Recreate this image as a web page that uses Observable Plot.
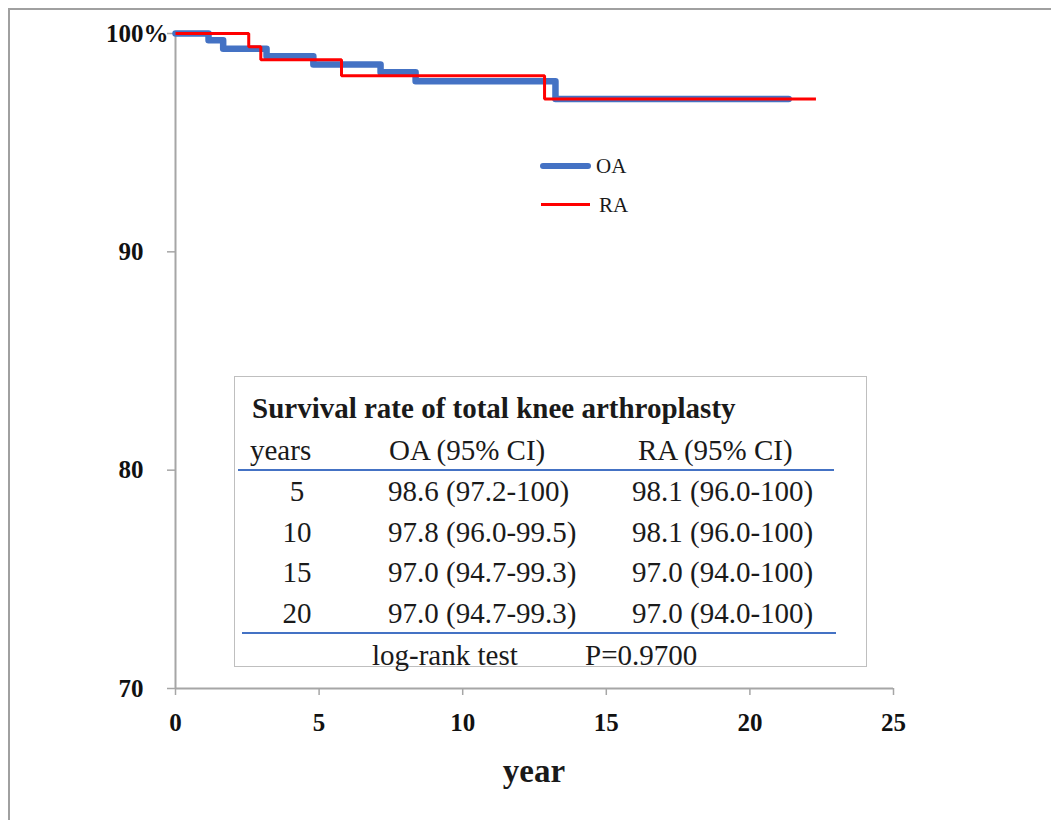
<!DOCTYPE html>
<html>
<head>
<meta charset="utf-8">
<script src="https://cdn.jsdelivr.net/npm/d3@7"></script>
<script src="https://cdn.jsdelivr.net/npm/@observablehq/plot@0.6"></script>
<style>
  body { margin: 0; background: #fff; }
  #wrap { position: relative; width: 1051px; height: 820px; font-family: "Liberation Serif", serif; color: #1a1a1a; }
  #wrap svg { position: absolute; left: 0; top: 0; }
  .abs { position: absolute; white-space: nowrap; }
  .vc { transform: translateY(-50%); }
</style>
</head>
<body>
<div id="wrap"></div>
<script>
// ---- data ----
const oaYears = [0, 1.15, 1.66, 3.17, 4.8, 7.14, 8.36, 13.23, 21.35];
const oaSurv  = [100, 99.69, 99.3, 98.96, 98.58, 98.22, 97.81, 97.0, 97.0];
const raYears = [0, 2.55, 2.97, 5.78, 12.85, 22.3];
const raSurv  = [100, 99.39, 98.8, 98.07, 97.0, 97.0];

const xTicks = [0, 5, 10, 15, 20, 25];
const yTicks = [70, 80, 90, 100];
const seriesNames = ["OA", "RA"];
const seriesColors = ["#4472C4", "#FF0000"];
const xLabel = "year";

const tableTitle = "Survival rate of total knee arthroplasty";
const tableHeader = ["years", "OA (95% CI)", "RA (95% CI)"];
const tableYears = ["5", "10", "15", "20"];
const tableOA = ["98.6 (97.2-100)", "97.8 (96.0-99.5)", "97.0 (94.7-99.3)", "97.0 (94.7-99.3)"];
const tableRA = ["98.1 (96.0-100)", "98.1 (96.0-100)", "97.0 (94.0-100)", "97.0 (94.0-100)"];
const tableFooter = ["log-rank test", "P=0.9700"];

// ---- build ----
const oa = oaYears.map((t, i) => ({t, s: oaSurv[i]}));
const ra = raYears.map((t, i) => ({t, s: raSurv[i]}));
const gray = "#a6a6a6";
const tickFont = {fontSize: 25, fontWeight: "bold", fontFamily: "Liberation Serif"};

const chart = Plot.plot({
  width: 1051,
  height: 820,
  marginLeft: 175,
  marginRight: 158,
  marginTop: 33,
  marginBottom: 132,
  style: {background: "transparent", fontFamily: "Liberation Serif", color: "#111"},
  x: {domain: [0, 25]},
  y: {domain: [70, 100]},
  marks: [
    Plot.ruleX([0], {stroke: gray, strokeWidth: 2}),
    Plot.ruleY([70], {stroke: gray, strokeWidth: 2}),
    Plot.axisX({ticks: xTicks, tickSize: 7, tickPadding: 18, stroke: gray, fill: "#111", strokeWidth: 1.5, label: null, ...tickFont}),
    Plot.axisY({ticks: yTicks, tickSize: 8, tickPadding: 24, stroke: gray, fill: "#111", strokeWidth: 1.5, label: null, tickFormat: d => String(d), ...tickFont}),
    Plot.axisY({ticks: [100], tickSize: 0, tickPadding: 32, textAnchor: "start", fill: "#111", label: null, tickFormat: () => "%", ...tickFont}),
    Plot.line(oa, {x: "t", y: "s", curve: "step-after", stroke: seriesColors[0], strokeWidth: 6.5, strokeLinecap: "round", strokeLinejoin: "round"}),
    Plot.line(ra, {x: "t", y: "s", curve: "step-after", stroke: seriesColors[1], strokeWidth: 3, strokeLinecap: "butt", strokeLinejoin: "miter"})
  ]
});

const wrap = document.getElementById("wrap");
wrap.appendChild(chart);

function el(tag, style, text, cls) {
  const e = document.createElement(tag);
  if (cls) e.className = cls;
  Object.assign(e.style, style);
  if (text != null) e.textContent = text;
  return e;
}

// outer frame (top and left edges visible)
wrap.appendChild(el("div", {position: "absolute", left: "8px", top: "8px", width: "1043px", height: "812px",
  borderTop: "2px solid #a0a0a0", borderLeft: "2px solid #a0a0a0", boxSizing: "border-box"}));

// legend
wrap.appendChild(el("div", {left: "540px", top: "163px", width: "51px", height: "6px", borderRadius: "3px", background: seriesColors[0]}, null, "abs"));
wrap.appendChild(el("div", {left: "596px", top: "166px", fontSize: "21px"}, seriesNames[0], "abs vc"));
wrap.appendChild(el("div", {left: "541px", top: "203px", width: "49px", height: "3px", background: seriesColors[1]}, null, "abs"));
wrap.appendChild(el("div", {left: "599px", top: "205px", fontSize: "21px"}, seriesNames[1], "abs vc"));

// x axis label
wrap.appendChild(el("div", {left: "534px", top: "771px", fontSize: "33px", fontWeight: "bold", transform: "translate(-50%,-50%)"}, xLabel, "abs"));

// table box
const box = el("div", {left: "234px", top: "376px", width: "633px", height: "291px", border: "1.5px solid #bfbfbf", boxSizing: "border-box", background: "#fff", fontSize: "29px"}, null, "abs");
wrap.appendChild(box);
box.appendChild(el("div", {left: "17px", top: "31px", fontWeight: "bold"}, tableTitle, "abs vc"));
box.appendChild(el("div", {left: "15px", top: "73px"}, tableHeader[0], "abs vc"));
box.appendChild(el("div", {left: "154px", top: "73px"}, tableHeader[1], "abs vc"));
box.appendChild(el("div", {left: "403px", top: "73px"}, tableHeader[2], "abs vc"));
box.appendChild(el("div", {left: "3px", top: "92px", width: "596px", height: "1.5px", background: "#4472C4"}, null, "abs"));
tableYears.forEach((y, i) => {
  const top = 114 + i * 40.5;
  box.appendChild(el("div", {left: "62px", top: top + "px", transform: "translate(-50%,-50%)"}, y, "abs"));
  box.appendChild(el("div", {left: "153px", top: top + "px"}, tableOA[i], "abs vc"));
  box.appendChild(el("div", {left: "397px", top: top + "px"}, tableRA[i], "abs vc"));
});
box.appendChild(el("div", {left: "7px", top: "255px", width: "594px", height: "1.5px", background: "#4472C4"}, null, "abs"));
box.appendChild(el("div", {left: "137px", top: "278px"}, tableFooter[0], "abs vc"));
box.appendChild(el("div", {left: "350px", top: "278px"}, tableFooter[1], "abs vc"));
</script>
</body>
</html>
